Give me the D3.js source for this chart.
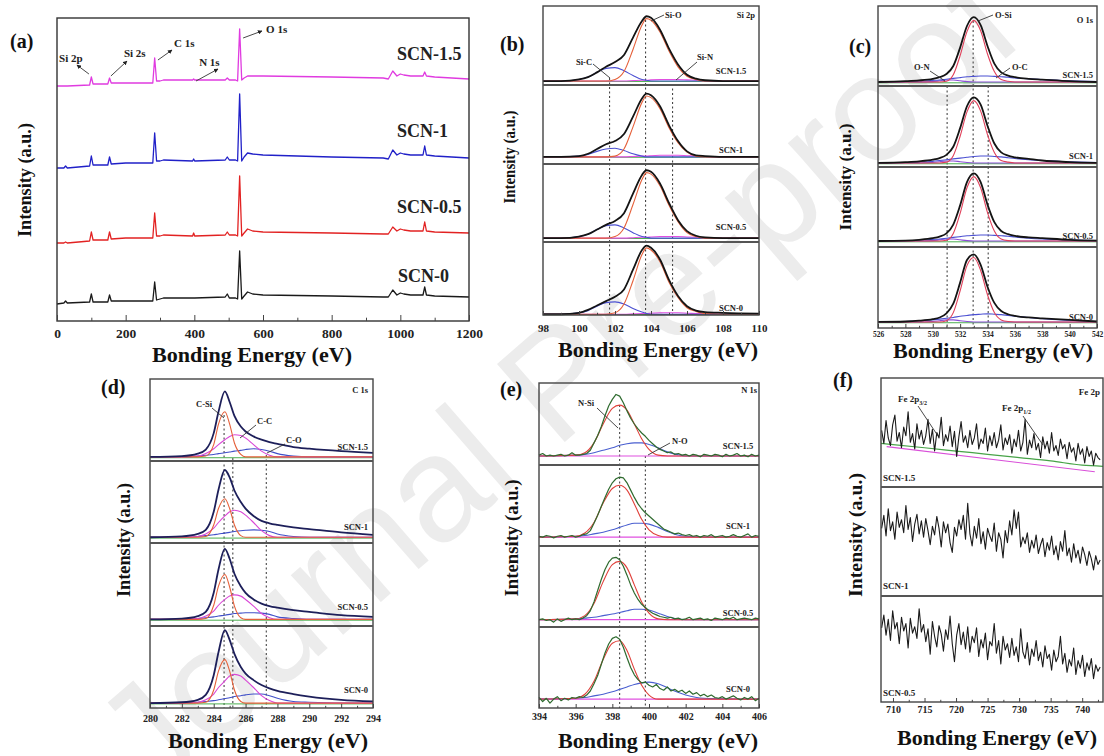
<!DOCTYPE html>
<html>
<head>
<meta charset="utf-8">
<script src="https://d3js.org/d3.v7.min.js"></script>
<style>
  body { margin: 0; background: #fff; }
  svg { display: block; font-family: "Liberation Serif", "Times New Roman", Times, serif; font-weight: bold; }
</style>
</head>
<body>
<svg id="fig" width="1104" height="756"></svg>
<script>
// ---------------- data ----------------
const samples = ["SCN-1.5", "SCN-1", "SCN-0.5", "SCN-0"];
const feSamples = ["SCN-1.5", "SCN-1", "SCN-0.5"];

// (a) survey, intensity in arbitrary units (offset stacked)
const surveyX = [0, 20, 25, 30, 95, 100, 105, 148, 153, 158, 200, 279, 284.5, 290, 300, 310, 395, 398, 401,
  490, 496, 502, 520, 526, 532, 538, 545, 555, 570, 600, 800, 950, 965, 978, 990, 1000, 1010, 1030,
  1066, 1071, 1076, 1100, 1200];
const surveySCN15 = [235,235,235,235, 236,244,237, 237,243,238, 238, 238,263,240, 240,241, 241,242,241,
  241,243,241, 241,240,292,241, 243,245,245,245, 244, 243,242,250,245, 247,246,245, 245,249,245, 244,242];
const surveySCN1 = [153,153,155,153, 155,165,156, 156,164,157, 158, 158,188,160, 160,161, 160,162,160,
  161,164,161, 161,160,227,160, 164,168,167,166, 164, 163,162,171,166, 168,167,166, 166,175,166, 165,163];
const surveySCN05 = [78,78,79,78, 80,89,81, 81,89,82, 83, 83,108,85, 85,86, 85,88,85,
  86,89,86, 86,85,145,85, 88,92,90,89, 88, 87,87,94,90, 92,91,90, 90,99,90, 89,88];
const surveySCN0 = [17,18,20,18, 19,27,19, 19,26,20, 20, 20,39,21, 22,23, 23,23,23,
  24,27,23, 23,22,70,22, 25,29,27,26, 25, 24,24,31,26, 28,27,26, 26,34,26, 25,24];
const surveyTicks = [0, 200, 400, 600, 800, 1000, 1200];

// (b) Si 2p, fractions of each sub-plot height
const si2pX = [98, 99, 100, 100.5, 101, 101.5, 102, 102.5, 103, 103.5, 103.75, 104, 104.5, 105, 105.5, 106, 106.5, 107, 108, 110];
const si2pEnvelope = [
  [0.05,0.05,0.07,0.10,0.16,0.23,0.29,0.38,0.60,0.81,0.87,0.85,0.70,0.46,0.26,0.13,0.08,0.06,0.05,0.05],
  [0.09,0.09,0.10,0.13,0.19,0.25,0.29,0.38,0.60,0.83,0.89,0.87,0.73,0.49,0.29,0.16,0.11,0.10,0.09,0.09],
  [0.05,0.05,0.07,0.10,0.16,0.22,0.27,0.37,0.62,0.86,0.92,0.90,0.75,0.50,0.28,0.14,0.08,0.06,0.05,0.05],
  [0.01,0.01,0.03,0.07,0.13,0.19,0.25,0.35,0.62,0.89,0.95,0.92,0.76,0.48,0.26,0.12,0.06,0.04,0.03,0.02]
];
const si2pSiO = [
  [0.05,0.05,0.05,0.05,0.05,0.05,0.07,0.17,0.45,0.76,0.84,0.82,0.67,0.43,0.23,0.11,0.07,0.05,0.05,0.05],
  [0.09,0.09,0.09,0.09,0.09,0.09,0.10,0.19,0.47,0.78,0.86,0.84,0.70,0.46,0.27,0.15,0.10,0.09,0.09,0.09],
  [0.05,0.05,0.05,0.05,0.05,0.05,0.07,0.18,0.48,0.80,0.89,0.87,0.72,0.47,0.26,0.12,0.07,0.05,0.05,0.05],
  [0.01,0.01,0.01,0.01,0.01,0.01,0.03,0.15,0.47,0.83,0.92,0.89,0.73,0.45,0.24,0.10,0.05,0.02,0.01,0.01]
];
const si2pSiC = [
  [0.05,0.05,0.07,0.10,0.16,0.21,0.22,0.18,0.12,0.07,0.06,0.05,0.05,0.05,0.05,0.05,0.05,0.05,0.05,0.05],
  [0.09,0.09,0.10,0.12,0.16,0.19,0.20,0.17,0.13,0.10,0.09,0.09,0.09,0.09,0.09,0.09,0.09,0.09,0.09,0.09],
  [0.05,0.05,0.07,0.10,0.16,0.21,0.22,0.18,0.12,0.07,0.06,0.05,0.05,0.05,0.05,0.05,0.05,0.05,0.05,0.05],
  [0.01,0.01,0.03,0.06,0.12,0.17,0.18,0.15,0.09,0.04,0.02,0.01,0.01,0.01,0.01,0.01,0.01,0.01,0.01,0.01]
];
const si2pSiN = [
  [0.05,0.05,0.05,0.05,0.05,0.05,0.05,0.05,0.055,0.06,0.06,0.065,0.07,0.07,0.07,0.065,0.06,0.055,0.05,0.05],
  [0.09,0.09,0.09,0.09,0.09,0.09,0.09,0.09,0.095,0.10,0.10,0.105,0.11,0.11,0.11,0.105,0.10,0.095,0.09,0.09],
  [0.05,0.05,0.05,0.05,0.05,0.05,0.05,0.05,0.055,0.06,0.06,0.065,0.07,0.07,0.07,0.065,0.06,0.055,0.05,0.05],
  [0.01,0.01,0.01,0.01,0.01,0.01,0.01,0.01,0.015,0.02,0.02,0.025,0.03,0.03,0.03,0.025,0.02,0.015,0.01,0.01]
];
const si2pBackground = [0.045, 0.085, 0.045, 0.005];
const si2pMarkers = [101.7, 103.7, 105.2];
const si2pTicks = [98, 100, 102, 104, 106, 108, 110];

// (c) O 1s
const o1sX = [526, 528, 529, 530, 530.5, 531, 531.5, 532, 532.5, 533, 533.5, 534, 534.5, 535, 535.5, 536, 537, 538, 540, 542];
const o1sEnvelope = [
  [0.05,0.06,0.07,0.09,0.11,0.15,0.25,0.48,0.75,0.86,0.76,0.50,0.28,0.17,0.13,0.11,0.09,0.08,0.06,0.05],
  [0.05,0.06,0.07,0.09,0.11,0.15,0.25,0.48,0.75,0.86,0.77,0.51,0.29,0.18,0.14,0.12,0.10,0.08,0.06,0.05],
  [0.075,0.08,0.09,0.11,0.13,0.17,0.28,0.52,0.81,0.92,0.81,0.53,0.31,0.20,0.16,0.14,0.12,0.11,0.09,0.08],
  [0.075,0.08,0.09,0.11,0.13,0.18,0.30,0.56,0.84,0.91,0.78,0.51,0.31,0.21,0.17,0.15,0.13,0.12,0.10,0.08]
];
const o1sOSi = [
  [0.05,0.05,0.05,0.05,0.05,0.06,0.14,0.38,0.68,0.82,0.69,0.40,0.18,0.08,0.06,0.05,0.05,0.05,0.05,0.05],
  [0.05,0.05,0.05,0.05,0.05,0.06,0.14,0.38,0.68,0.82,0.69,0.40,0.18,0.08,0.06,0.05,0.05,0.05,0.05,0.05],
  [0.075,0.075,0.075,0.075,0.075,0.085,0.17,0.42,0.74,0.88,0.74,0.43,0.20,0.10,0.08,0.075,0.075,0.075,0.075,0.075],
  [0.075,0.075,0.075,0.075,0.075,0.09,0.19,0.46,0.77,0.87,0.71,0.41,0.19,0.10,0.08,0.075,0.075,0.075,0.075,0.075]
];
const o1sOC = [
  [0.05,0.055,0.06,0.07,0.075,0.085,0.095,0.105,0.115,0.12,0.125,0.125,0.12,0.115,0.11,0.10,0.09,0.08,0.065,0.055],
  [0.05,0.055,0.06,0.07,0.08,0.09,0.10,0.11,0.12,0.13,0.135,0.135,0.13,0.125,0.115,0.105,0.09,0.08,0.065,0.055],
  [0.075,0.08,0.085,0.095,0.10,0.11,0.12,0.13,0.14,0.145,0.15,0.15,0.145,0.14,0.135,0.125,0.11,0.10,0.09,0.08],
  [0.075,0.08,0.09,0.10,0.11,0.12,0.13,0.145,0.155,0.165,0.17,0.175,0.17,0.165,0.155,0.145,0.13,0.115,0.095,0.08]
];
const o1sON = [
  [0.05,0.05,0.05,0.055,0.065,0.075,0.075,0.065,0.055,0.05,0.05,0.05,0.05,0.05,0.05,0.05,0.05,0.05,0.05,0.05],
  [0.05,0.05,0.05,0.055,0.065,0.075,0.075,0.065,0.055,0.05,0.05,0.05,0.05,0.05,0.05,0.05,0.05,0.05,0.05,0.05],
  [0.075,0.075,0.075,0.08,0.09,0.10,0.10,0.09,0.08,0.075,0.075,0.075,0.075,0.075,0.075,0.075,0.075,0.075,0.075,0.075],
  [0.075,0.075,0.075,0.08,0.09,0.10,0.10,0.09,0.08,0.075,0.075,0.075,0.075,0.075,0.075,0.075,0.075,0.075,0.075,0.075]
];
const o1sBackground = [0.04, 0.04, 0.065, 0.065];
const o1sMarkers = [531.05, 532.95, 534.05];
const o1sTicks = [526, 528, 530, 532, 534, 536, 538, 540, 542];

// (d) C 1s
const c1sX = [280, 282, 283, 283.5, 284, 284.3, 284.7, 285, 285.3, 285.7, 286, 286.5, 287, 287.5, 288, 289, 290, 292, 294];
const c1sEnvelope = [
  [0.05,0.06,0.09,0.14,0.34,0.60,0.85,0.72,0.55,0.42,0.36,0.30,0.26,0.23,0.21,0.17,0.15,0.12,0.10],
  [0.07,0.08,0.11,0.16,0.38,0.65,0.89,0.80,0.64,0.50,0.42,0.33,0.27,0.24,0.22,0.19,0.17,0.13,0.10],
  [0.08,0.09,0.12,0.17,0.40,0.68,0.93,0.81,0.63,0.48,0.40,0.32,0.27,0.24,0.22,0.19,0.17,0.13,0.11],
  [0.06,0.07,0.10,0.16,0.40,0.68,0.95,0.83,0.66,0.50,0.42,0.34,0.28,0.24,0.21,0.17,0.14,0.10,0.08]
];
const c1sCSi = [
  [0.05,0.05,0.05,0.06,0.20,0.45,0.60,0.45,0.22,0.08,0.05,0.05,0.05,0.05,0.05,0.05,0.05,0.05,0.05],
  [0.07,0.07,0.07,0.08,0.22,0.42,0.54,0.42,0.22,0.09,0.07,0.07,0.07,0.07,0.07,0.07,0.07,0.07,0.07],
  [0.08,0.08,0.08,0.09,0.25,0.48,0.62,0.47,0.24,0.10,0.08,0.08,0.08,0.08,0.08,0.08,0.08,0.08,0.08],
  [0.06,0.06,0.06,0.07,0.22,0.45,0.59,0.45,0.22,0.08,0.06,0.06,0.06,0.06,0.06,0.06,0.06,0.06,0.06]
];
const c1sCC = [
  [0.05,0.05,0.06,0.09,0.15,0.20,0.26,0.30,0.32,0.31,0.28,0.20,0.12,0.07,0.05,0.05,0.05,0.05,0.05],
  [0.07,0.07,0.08,0.11,0.18,0.25,0.33,0.38,0.40,0.38,0.34,0.25,0.15,0.09,0.07,0.07,0.07,0.07,0.07],
  [0.08,0.08,0.09,0.12,0.18,0.25,0.32,0.36,0.375,0.36,0.32,0.24,0.15,0.10,0.08,0.08,0.08,0.08,0.08],
  [0.06,0.06,0.07,0.10,0.17,0.25,0.33,0.39,0.41,0.39,0.34,0.25,0.15,0.09,0.06,0.06,0.06,0.06,0.06]
];
const c1sCO = [
  [0.05,0.05,0.06,0.07,0.08,0.09,0.10,0.11,0.12,0.13,0.14,0.15,0.14,0.12,0.09,0.06,0.05,0.05,0.05],
  [0.07,0.07,0.08,0.09,0.10,0.11,0.12,0.13,0.14,0.15,0.155,0.16,0.155,0.14,0.11,0.08,0.07,0.07,0.07],
  [0.08,0.08,0.09,0.10,0.11,0.12,0.13,0.14,0.15,0.155,0.16,0.16,0.155,0.14,0.11,0.09,0.08,0.08,0.08],
  [0.06,0.06,0.07,0.08,0.09,0.10,0.115,0.125,0.14,0.15,0.16,0.17,0.17,0.15,0.12,0.08,0.07,0.06,0.06]
];
const c1sBackground = [0.04, 0.06, 0.07, 0.05];
const c1sMarkers = [284.65, 285.2, 287.3];
const c1sTicks = [280, 282, 284, 286, 288, 290, 292, 294];

// (e) N 1s, measured on a 0.2 eV grid from 394 eV
const n1sStart = 394, n1sStep = 0.2;
const n1sMeasured = [
  [0.12,0.14,0.11,0.12,0.11,0.12,0.13,0.11,0.12,0.15, 0.12,0.12,0.13,0.14,0.18,0.27,0.36,0.47,0.60,0.72,
   0.80,0.86,0.84,0.76,0.66,0.57,0.50,0.44,0.39,0.35, 0.30,0.26,0.22,0.19,0.17,0.15,0.16,0.13,0.14,0.12,
   0.13,0.11,0.13,0.12,0.10,0.13,0.12,0.11,0.13,0.12, 0.10,0.13,0.11,0.12,0.14,0.11,0.12,0.10,0.13,0.11,0.12],
  [0.12,0.11,0.13,0.12,0.10,0.12,0.13,0.11,0.12,0.13, 0.11,0.12,0.14,0.15,0.19,0.28,0.38,0.49,0.60,0.70,
   0.78,0.83,0.85,0.84,0.78,0.69,0.60,0.52,0.46,0.41, 0.37,0.33,0.29,0.25,0.21,0.19,0.17,0.15,0.16,0.14,
   0.13,0.14,0.12,0.13,0.11,0.13,0.12,0.14,0.11,0.12, 0.13,0.11,0.12,0.14,0.12,0.11,0.13,0.15,0.11,0.13,0.12],
  [0.09,0.10,0.08,0.09,0.06,0.10,0.07,0.09,0.11,0.09, 0.10,0.09,0.11,0.14,0.20,0.31,0.45,0.59,0.71,0.80,
   0.85,0.86,0.83,0.75,0.64,0.52,0.42,0.34,0.28,0.24, 0.20,0.17,0.15,0.13,0.12,0.11,0.12,0.10,0.11,0.09,
   0.10,0.12,0.09,0.10,0.11,0.09,0.10,0.08,0.11,0.10, 0.09,0.11,0.10,0.12,0.09,0.10,0.11,0.10,0.09,0.11,0.10],
  [0.13,0.08,0.12,0.06,0.11,0.14,0.09,0.12,0.10,0.13, 0.12,0.14,0.13,0.16,0.21,0.30,0.40,0.54,0.68,0.79,
   0.86,0.88,0.85,0.75,0.62,0.50,0.41,0.35,0.31,0.32, 0.28,0.26,0.29,0.24,0.22,0.26,0.21,0.23,0.20,0.22,
   0.18,0.21,0.17,0.19,0.15,0.17,0.14,0.16,0.13,0.12, 0.14,0.11,0.13,0.15,0.12,0.10,0.13,0.11,0.14,0.09,0.12]
];
const n1sFitX = [394, 396, 396.5, 397, 397.5, 398, 398.4, 398.8, 399.2, 399.6, 400, 400.5, 401, 401.5, 402, 403, 406];
const n1sNSi = [
  [0.11,0.12,0.15,0.27,0.50,0.69,0.73,0.67,0.50,0.32,0.19,0.12,0.11,0.11,0.11,0.11,0.11],
  [0.11,0.12,0.16,0.29,0.53,0.71,0.75,0.69,0.52,0.33,0.20,0.13,0.11,0.11,0.11,0.11,0.11],
  [0.09,0.10,0.14,0.29,0.56,0.77,0.81,0.73,0.52,0.31,0.17,0.10,0.09,0.09,0.09,0.09,0.09],
  [0.11,0.12,0.17,0.33,0.60,0.80,0.83,0.71,0.48,0.28,0.16,0.11,0.11,0.11,0.11,0.11,0.11]
];
const n1sNO = [
  [0.11,0.12,0.13,0.15,0.18,0.21,0.24,0.26,0.27,0.27,0.25,0.21,0.16,0.13,0.11,0.11,0.11],
  [0.11,0.12,0.13,0.15,0.17,0.20,0.23,0.26,0.28,0.28,0.27,0.23,0.18,0.14,0.12,0.11,0.11],
  [0.09,0.10,0.11,0.12,0.14,0.16,0.18,0.20,0.22,0.22,0.21,0.17,0.13,0.10,0.09,0.09,0.09],
  [0.11,0.12,0.13,0.15,0.17,0.20,0.23,0.26,0.29,0.31,0.32,0.30,0.25,0.20,0.16,0.12,0.11]
];
const n1sBaseline = [0.11, 0.11, 0.09, 0.11];
const n1sMarkers = [398.4, 399.8];
const n1sTicks = [394, 396, 398, 400, 402, 404, 406];

// (f) Fe 2p, measured on a 0.35 eV grid from 708.2 eV
const feStart = 708.2, feStep = 0.35;
const feMeasured = [
  [0.52,0.40,0.61,0.45,0.38,0.57,0.66,0.42,0.50,0.36, 0.55,0.47,0.69,0.41,0.49,0.35,0.58,0.44,0.52,0.39,
   0.47,0.62,0.40,0.53,0.33,0.50,0.45,0.64,0.38,0.48, 0.42,0.56,0.37,0.51,0.28,0.46,0.60,0.41,0.47,0.36,
   0.52,0.39,0.45,0.58,0.35,0.44,0.40,0.54,0.33,0.47, 0.38,0.50,0.36,0.43,0.57,0.34,0.45,0.39,0.48,0.31,
   0.44,0.37,0.52,0.33,0.41,0.62,0.30,0.43,0.36,0.49, 0.34,0.40,0.27,0.46,0.35,0.42,0.31,0.50,0.33,0.38,
   0.29,0.44,0.35,0.39,0.26,0.41,0.32,0.36,0.24,0.40, 0.30,0.35,0.22,0.37,0.28,0.33,0.20,0.31,0.27,0.25],
  [0.62,0.74,0.55,0.80,0.60,0.68,0.52,0.77,0.63,0.70, 0.58,0.83,0.61,0.72,0.50,0.66,0.75,0.57,0.69,0.54,
   0.71,0.60,0.47,0.64,0.56,0.73,0.62,0.45,0.68,0.58, 0.66,0.49,0.40,0.63,0.55,0.70,0.61,0.74,0.52,0.85,
   0.57,0.46,0.64,0.53,0.71,0.48,0.59,0.43,0.62,0.55, 0.50,0.67,0.41,0.58,0.52,0.35,0.60,0.49,0.69,0.56,
   0.79,0.62,0.77,0.45,0.54,0.48,0.58,0.40,0.51,0.44, 0.56,0.39,0.47,0.53,0.36,0.49,0.42,0.55,0.38,0.46,
   0.33,0.50,0.41,0.60,0.37,0.44,0.31,0.48,0.35,0.42, 0.30,0.45,0.38,0.28,0.41,0.34,0.24,0.37,0.29,0.33],
  [0.70,0.82,0.63,0.78,0.58,0.86,0.69,0.75,0.55,0.80, 0.67,0.74,0.51,0.79,0.65,0.71,0.60,0.88,0.66,0.73,
   0.57,0.69,0.45,0.76,0.62,0.52,0.72,0.64,0.48,0.68, 0.59,0.81,0.55,0.38,0.63,0.74,0.54,0.66,0.50,0.71,
   0.47,0.62,0.56,0.70,0.43,0.59,0.51,0.65,0.40,0.57, 0.53,0.74,0.46,0.58,0.36,0.62,0.49,0.55,0.42,0.60,
   0.44,0.52,0.38,0.69,0.47,0.41,0.56,0.35,0.50,0.43, 0.58,0.39,0.47,0.33,0.53,0.41,0.45,0.30,0.49,0.38,
   0.43,0.62,0.36,0.46,0.28,0.40,0.34,0.51,0.26,0.39, 0.32,0.44,0.24,0.37,0.30,0.41,0.22,0.35,0.29,0.33]
];
const feBackgroundX = [708.1, 715, 720, 725, 730, 735, 740, 743.3];
const feBackground = [0.40, 0.36, 0.33, 0.30, 0.27, 0.24, 0.20, 0.19];
const feLinearX = [709, 742];
const feLinear = [0.37, 0.14];
const feTicks = [710, 715, 720, 725, 730, 735, 740];

// ---------------- drawing ----------------
const svg = d3.select("#fig");
const SERIF = '"Liberation Serif", "Times New Roman", Times, serif';

// watermark
svg.append("text")
  .attr("transform", "translate(590,420) rotate(-41)")
  .attr("text-anchor", "middle")
  .style("font-family", '"Liberation Sans", Arial, sans-serif')
  .style("font-weight", "normal")
  .style("font-size", "150px")
  .attr("fill", "#ececec")
  .text("Journal Pre-proof");

svg.append("defs").append("marker")
  .attr("id", "arrow").attr("viewBox", "0 0 10 10").attr("refX", 9).attr("refY", 5)
  .attr("markerWidth", 5).attr("markerHeight", 5).attr("orient", "auto")
  .append("path").attr("d", "M0,0 L10,5 L0,10 z").attr("fill", "#222");

function bottomAxis(x, y, major, minor, fs, pad, len) {
  svg.append("g").attr("transform", `translate(0,${y})`)
    .call(d3.axisBottom(x).tickValues(minor).tickSize(-len * 0.55).tickFormat(""))
    .call(g => g.select(".domain").remove())
    .selectAll("line").attr("stroke", "#444");
  const a = svg.append("g").attr("transform", `translate(0,${y})`)
    .call(d3.axisBottom(x).tickValues(major).tickSize(-len).tickPadding(pad).tickFormat(d3.format("d")))
    .call(g => g.select(".domain").remove());
  a.selectAll("line").attr("stroke", "#444");
  a.selectAll("text").style("font-family", SERIF)
    .style("font-weight", "bold").style("font-size", fs + "px").attr("fill", "#222");
}

function titles(cx, by, lx, ly, fx, fy, lenY) {
  svg.append("text").attr("x", cx).attr("y", by).attr("text-anchor", "middle").style("font-family", SERIF)
    .style("font-size", fx + "px").attr("textLength", 200).attr("lengthAdjust", "spacingAndGlyphs")
    .attr("fill", "#111").text("Bonding Energy (eV)");
  svg.append("text").attr("transform", `translate(${lx},${ly}) rotate(-90)`).attr("text-anchor", "middle")
    .style("font-family", SERIF)
    .style("font-size", fy + "px").attr("textLength", lenY).attr("lengthAdjust", "spacingAndGlyphs")
    .attr("fill", "#111").text("Intensity (a.u.)");
}

function panelLetter(t, x, y) {
  svg.append("text").attr("x", x).attr("y", y).style("font-family", SERIF)
    .style("font-size", "20px").attr("fill", "#111").text(t);
}

function note(x, y, t, fs, anchor) {
  return svg.append("text").attr("x", x).attr("y", y).attr("text-anchor", anchor || "start")
    .style("font-family", SERIF).style("font-size", fs + "px").attr("fill", "#222").text(t);
}

function leader(x1, y1, x2, y2, arrow) {
  const l = svg.append("line").attr("x1", x1).attr("y1", y1).attr("x2", x2).attr("y2", y2)
    .attr("stroke", "#333").attr("stroke-width", 0.9);
  if (arrow) l.attr("marker-end", "url(#arrow)");
}

// ----- (a) survey -----
{
  const x = d3.scaleLinear().domain([0, 1200]).range([57, 469]);
  const y = d3.scaleLinear().domain([0, 303]).range([321, 18]);
  const series = [surveySCN15, surveySCN1, surveySCN05, surveySCN0];
  const colors = ["#e03be0", "#2020c8", "#e22222", "#1a1a1a"];
  const line = d3.line().x((d, i) => x(surveyX[i])).y(d => y(d));
  series.forEach((s, i) => {
    svg.append("path").attr("d", line(s)).attr("fill", "none")
      .attr("stroke", colors[i]).attr("stroke-width", 1.3).attr("stroke-linejoin", "round");
  });
  svg.append("rect").attr("x", 57).attr("y", 18).attr("width", 412).attr("height", 303)
    .attr("fill", "none").attr("stroke", "#333").attr("stroke-width", 1.4);
  bottomAxis(x, 321, surveyTicks, [100, 300, 500, 700, 900, 1100], 13.5, 7, 6);
  const labelPos = [[990, 261], [990, 184], [990, 108], [993, 39]];
  samples.forEach((s, i) => note(x(labelPos[i][0]), y(labelPos[i][1]), s, 18));
  const notes = [
    { t: "Si 2p", at: [6, 259], from: [93, 247], to: [58, 256] },
    { t: "Si 2s", at: [195, 264], from: [157, 245], to: [204, 260] },
    { t: "C 1s", at: [341, 274], from: [294, 261], to: [335, 271] },
    { t: "N 1s", at: [414, 255], from: [405, 240], to: [469, 252] },
    { t: "O 1s", at: [609, 288], from: [542, 283], to: [597, 290] }
  ];
  notes.forEach(n => {
    note(x(n.at[0]), y(n.at[1]), n.t, 11);
    leader(x(n.from[0]), y(n.from[1]), x(n.to[0]), y(n.to[1]), true);
  });
  titles(252, 362, 31, 180, 22, 18, 114);
  panelLetter("(a)", 10, 48);
}

// ----- stacked panels -----
function stack(cfg) {
  const x = d3.scaleLinear().domain(cfg.domain).range([cfg.left, cfg.right]);
  const n = cfg.edges.length - 1;
  const ys = d3.range(n).map(i => d3.scaleLinear().domain([0, 1]).range([cfg.edges[i + 1], cfg.edges[i]]));
  (cfg.markers || []).forEach((m, i) => {
    svg.append("line").attr("x1", x(m)).attr("x2", x(m)).attr("y1", cfg.markerTop[i]).attr("y2", cfg.edges[n])
      .attr("stroke", "#333").attr("stroke-width", 1).attr("stroke-dasharray", "2,2.5");
  });
  cfg.series.forEach(s => {
    s.values.forEach((vals, i) => {
      const xs = s.x(i);
      const line = d3.line().x((d, j) => x(xs[j])).y(d => ys[i](d)).curve(s.curve || d3.curveMonotoneX);
      svg.append("path").attr("d", line(vals)).attr("fill", "none")
        .attr("stroke", s.color).attr("stroke-width", s.width).attr("stroke-linejoin", "round");
    });
  });
  svg.append("rect").attr("x", cfg.left).attr("y", cfg.edges[0]).attr("width", cfg.right - cfg.left)
    .attr("height", cfg.edges[n] - cfg.edges[0]).attr("fill", "none").attr("stroke", "#444").attr("stroke-width", 1.4);
  cfg.edges.slice(1, n).forEach(e => {
    svg.append("line").attr("x1", cfg.left).attr("x2", cfg.right).attr("y1", e).attr("y2", e)
      .attr("stroke", "#555").attr("stroke-width", 1.8);
  });
  bottomAxis(x, cfg.edges[n], cfg.ticks, cfg.minor, cfg.tickFont, cfg.tickPad, 4);
  cfg.labels.forEach((s, i) => {
    note(cfg.labelX, cfg.edges[i + 1] - cfg.labelUp[i], s, cfg.labelFont, cfg.labelAnchor);
  });
  return { x, ys };
}

const flat = (xs) => () => xs;
const pairs = arr => arr.map(b => [b, b]);

// (b) Si 2p
{
  const cfg = {
    domain: [98, 110], left: 543, right: 759, edges: [6, 85, 164, 242, 315],
    markers: si2pMarkers, markerTop: [78, 20, 84],
    ticks: si2pTicks, minor: [99, 101, 103, 105, 107, 109], tickFont: 11, tickPad: 9,
    labels: samples, labelX: 731, labelUp: [11, 11, 12, 4], labelFont: 8.5, labelAnchor: "middle",
    series: [
      { x: flat([98, 110]), values: pairs(si2pBackground), color: "#4caf50", width: 1 },
      { x: flat(si2pX), values: si2pSiN, color: "#e04fe0", width: 1.1 },
      { x: flat(si2pX), values: si2pSiC, color: "#4b50d2", width: 1.1 },
      { x: flat(si2pX), values: si2pSiO, color: "#e5603a", width: 1.1 },
      { x: flat(si2pX), values: si2pEnvelope, color: "#141414", width: 1.8 }
    ]
  };
  stack(cfg);
  note(755, 18, "Si 2p", 8.5, "end");
  note(665, 18, "Si-O", 8.5);
  leader(664, 15, 651, 21);
  note(576, 65, "Si-C", 8.5);
  leader(593, 64, 610, 78);
  note(697, 60, "Si-N", 8.5);
  leader(697, 62, 676, 80);
  titles(658, 357, 515, 157, 22, 17, 93);
  panelLetter("(b)", 500, 51);
}

// (c) O 1s
{
  const cfg = {
    domain: [526, 542], left: 878, right: 1097, edges: [6, 86, 167, 247, 328],
    markers: o1sMarkers, markerTop: [86, 21, 86],
    ticks: o1sTicks, minor: [527, 529, 531, 533, 535, 537, 539, 541], tickFont: 7.5, tickPad: 4,
    labels: samples, labelX: 1093, labelUp: [8, 8, 8, 8], labelFont: 8.5, labelAnchor: "end",
    series: [
      { x: flat([526, 542]), values: pairs(o1sBackground), color: "#4caf50", width: 1 },
      { x: flat(o1sX), values: o1sON, color: "#8a4fd6", width: 1.1 },
      { x: flat(o1sX), values: o1sOC, color: "#4b50d2", width: 1.1 },
      { x: flat(o1sX), values: o1sOSi, color: "#e0405a", width: 1.1 },
      { x: flat(o1sX), values: o1sEnvelope, color: "#141414", width: 1.8 }
    ]
  };
  stack(cfg);
  note(1093, 23, "O 1s", 8.5, "end");
  note(995, 18, "O-Si", 8.5);
  leader(993, 15, 978, 21);
  note(914, 70, "O-N", 8.5);
  leader(930, 71, 945, 81);
  note(1012, 70, "O-C", 8.5);
  leader(1010, 68, 996, 78);
  titles(993, 358, 851, 177, 22, 17, 107);
  panelLetter("(c)", 849, 53);
}

// (d) C 1s
{
  const cfg = {
    domain: [280, 294], left: 150, right: 373, edges: [379, 461, 543, 626, 708],
    markers: c1sMarkers, markerTop: [415, 458, 455],
    ticks: c1sTicks, minor: [281, 283, 285, 287, 289, 291, 293], tickFont: 10, tickPad: 7,
    labels: samples, labelX: 368, labelUp: [11, 13, 16, 15], labelFont: 8.5, labelAnchor: "end",
    series: [
      { x: flat([280, 294]), values: pairs(c1sBackground), color: "#4caf50", width: 1 },
      { x: flat(c1sX), values: c1sCO, color: "#4050c8", width: 1.1 },
      { x: flat(c1sX), values: c1sCC, color: "#d946d6", width: 1.1 },
      { x: flat(c1sX), values: c1sCSi, color: "#e5603a", width: 1.1 },
      { x: flat(c1sX), values: c1sEnvelope, color: "#1d1f5a", width: 1.8 }
    ]
  };
  stack(cfg);
  note(368, 393, "C 1s", 8.5, "end");
  note(196, 407, "C-Si", 8.5);
  leader(212, 408, 224, 418);
  note(257, 424, "C-C", 8.5);
  leader(256, 425, 240, 438);
  note(286, 443, "C-O", 8.5);
  leader(285, 444, 267, 453);
  titles(268, 748, 130, 540, 22, 18, 114);
  panelLetter("(d)", 101, 394);
}

// (e) N 1s
{
  const n1sX = d3.range(n1sMeasured[0].length).map(i => n1sStart + i * n1sStep);
  const cfg = {
    domain: [394, 406], left: 539, right: 759, edges: [383, 465, 546, 627, 708],
    markers: n1sMarkers, markerTop: [405, 456],
    ticks: n1sTicks, minor: [395, 397, 399, 401, 403, 405], tickFont: 10, tickPad: 5,
    labels: samples, labelX: 738, labelUp: [16, 17, 11, 16], labelFont: 8.5, labelAnchor: "middle",
    series: [
      { x: flat([394, 406]), values: pairs(n1sBaseline), color: "#e050e0", width: 1.2 },
      { x: flat(n1sFitX), values: n1sNO, color: "#4a5fd0", width: 1.1 },
      { x: flat(n1sFitX), values: n1sNSi, color: "#e0403a", width: 1.1 },
      { x: flat(n1sX), values: n1sMeasured, color: "#2f6b2f", width: 1.2, curve: d3.curveLinear }
    ]
  };
  stack(cfg);
  note(757, 393, "N 1s", 8.5, "end");
  note(578, 406, "N-Si", 8.5);
  leader(597, 408, 618, 428);
  note(672, 444, "N-O", 8.5);
  leader(670, 443, 648, 455);
  titles(658, 748, 518, 538, 22, 18, 117);
  panelLetter("(e)", 500, 396);
}

// (f) Fe 2p
{
  const feX = d3.range(feMeasured[0].length).map(i => feStart + i * feStep);
  const cfg = {
    domain: [708.1, 743.3], left: 881, right: 1103, edges: [378, 487, 596, 702],
    markers: [], markerTop: [],
    ticks: feTicks, minor: [712.5, 717.5, 722.5, 727.5, 732.5, 737.5, 742.5], tickFont: 10, tickPad: 4,
    labels: feSamples, labelX: 883, labelUp: [6, 7, 6], labelFont: 9, labelAnchor: "start",
    series: [
      { x: flat(feLinearX), values: [feLinear], color: "#d94fd9", width: 1.2 },
      { x: flat(feBackgroundX), values: [feBackground], color: "#47a347", width: 1.2 },
      { x: flat(feX), values: feMeasured, color: "#1a1a1a", width: 1.1, curve: d3.curveLinear }
    ]
  };
  stack(cfg);
  note(1100, 395, "Fe 2p", 9, "end");
  const t1 = note(898, 402, "Fe 2p", 9);
  t1.append("tspan").attr("dy", 3).style("font-size", "6px").text("3/2");
  leader(918, 406, 938, 436);
  const t2 = note(1002, 411, "Fe 2p", 9);
  t2.append("tspan").attr("dy", 3).style("font-size", "6px").text("1/2");
  leader(1023, 416, 1043, 445);
  titles(997, 745, 862, 535, 22, 19, 124);
  panelLetter("(f)", 833, 387);
}
</script>
</body>
</html>
